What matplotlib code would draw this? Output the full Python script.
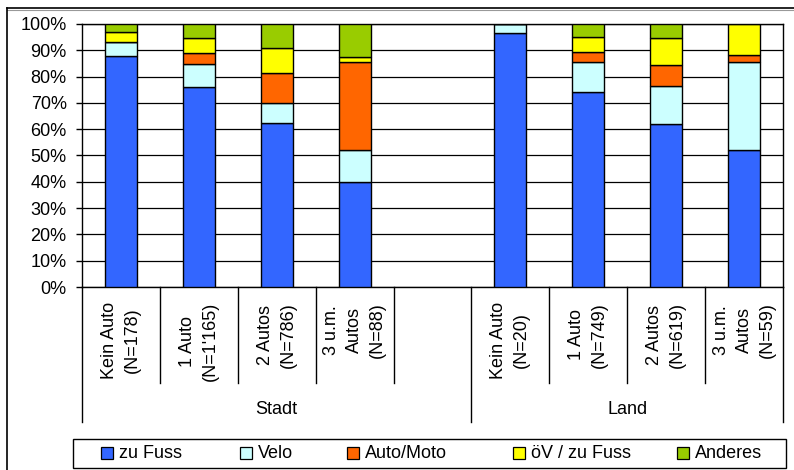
import matplotlib
matplotlib.use("Agg")
import matplotlib.pyplot as plt
from matplotlib.patches import Rectangle
from matplotlib.lines import Line2D
from matplotlib.ticker import PercentFormatter, MultipleLocator
from matplotlib.transforms import blended_transform_factory

plt.rcParams["font.family"] = ["Liberation Sans", "DejaVu Sans"]

# Categories (number of cars in household) per settlement type
groups = ["Stadt", "Land"]
stadt_labels = ["Kein Auto\n(N=178)", "1 Auto\n(N=1'165)", "2 Autos\n(N=786)", "3 u.m.\nAutos\n(N=88)"]
land_labels = ["Kein Auto\n(N=20)", "1 Auto\n(N=749)", "2 Autos\n(N=619)", "3 u.m.\nAutos\n(N=59)"]

# Share of each mode in percent (Stadt x4, then Land x4)
zu_fuss = [88.0, 76.0, 62.2, 40.0, 96.7, 74.1, 61.8, 52.0]
velo = [5.0, 8.8, 7.6, 12.0, 3.3, 11.3, 14.7, 33.4]
auto_moto = [0.0, 4.0, 11.7, 33.4, 0.0, 3.8, 7.9, 2.8]
oev_zu_fuss = [4.0, 5.7, 9.2, 1.9, 0.0, 6.0, 10.3, 11.8]
anderes = [3.0, 5.5, 9.3, 12.7, 0.0, 4.8, 5.3, 0.0]

series_names = ["zu Fuss", "Velo", "Auto/Moto", "öV / zu Fuss", "Anderes"]
series_values = [zu_fuss, velo, auto_moto, oev_zu_fuss, anderes]
colors = ["#3366FF", "#CCFFFF", "#FF6600", "#FFFF00", "#99CC00"]

FS = 13
W, H = 794, 470
fig = plt.figure(figsize=(W / 100, H / 100), dpi=100)

def fx(px):
    return px / W

def fy(py):
    return 1 - py / H

# Plot area
left, right, top, bottom = 82, 783, 24, 287
ax = fig.add_axes([fx(left), fy(bottom), fx(right - left), (bottom - top) / H])

# One empty slot separates the two groups
n_stadt = len(stadt_labels)
positions = list(range(n_stadt)) + [n_stadt + 1 + i for i in range(len(land_labels))]
n_slots = n_stadt + 1 + len(land_labels)

bar_w = 0.41
base = [0.0] * len(positions)
for name, vals, col in zip(series_names, series_values, colors):
    frac = [v / 100 for v in vals]
    ax.bar(positions, frac, bar_w, bottom=base, color=col, edgecolor="black",
           linewidth=1.0, zorder=3)
    base = [b + f for b, f in zip(base, frac)]

ax.set_xlim(-0.5, n_slots - 0.5)
ax.set_ylim(0, 1)
ax.yaxis.set_major_locator(MultipleLocator(0.1))
ax.yaxis.set_major_formatter(PercentFormatter(1.0, decimals=0))
ax.tick_params(axis="y", direction="out", length=4, width=1, pad=7,
               labelsize=FS, colors="black")
ax.set_xticks([])
ax.grid(axis="y", color="black", linewidth=0.9, zorder=0)
for s in ax.spines.values():
    s.set_color("black")
    s.set_linewidth(1.0)

# Category labels and separators below the axis
trans = blended_transform_factory(ax.transData, ax.transAxes)
label_y = -(302 - bottom) / (bottom - top)
inner_y = -(383 - bottom) / (bottom - top)
outer_y = -(422 - bottom) / (bottom - top)
group_y = -(410 - bottom) / (bottom - top)

for pos, lab in zip(positions, stadt_labels + land_labels):
    ax.text(pos, label_y, lab, transform=trans, rotation=90, ha="center", va="top",
            multialignment="center", fontsize=FS, linespacing=1.45)

group_bounds = [-0.5, n_stadt + 0.5, n_slots - 0.5]
for b in range(n_slots + 1):
    xb = b - 0.5
    ybot = outer_y if xb in group_bounds else inner_y
    ax.add_line(Line2D([xb, xb], [0, ybot], transform=trans, color="black",
                       linewidth=1.0, clip_on=False))

for g, (a, b) in zip(groups, zip(group_bounds[:-1], group_bounds[1:])):
    ax.text((a + b) / 2, group_y, g, transform=trans, ha="center", va="center",
            fontsize=FS)

# Legend
fig.add_artist(Rectangle((fx(73), fy(468)), fx(786 - 73), (468 - 439) / H,
                         transform=fig.transFigure, facecolor="white",
                         edgecolor="black", linewidth=1.0))
legend_x = [101, 240, 347, 513, 677]
for x0, name, col in zip(legend_x, series_names, colors):
    fig.add_artist(Rectangle((fx(x0), fy(459)), fx(12), 12 / H,
                             transform=fig.transFigure, facecolor=col,
                             edgecolor="black", linewidth=0.9))
    fig.text(fx(x0 + 18), fy(453), name, ha="left", va="center", fontsize=FS)

# Chart area frame
fig.add_artist(Line2D([fx(7), 1], [fy(8), fy(8)], transform=fig.transFigure,
                      color="black", linewidth=1.2))
fig.add_artist(Line2D([fx(7), 1], [fy(9.5), fy(9.5)], transform=fig.transFigure,
                      color="#999999", linewidth=0.8))
fig.add_artist(Line2D([fx(7), fx(7)], [fy(8), 0], transform=fig.transFigure,
                      color="black", linewidth=1.2))

fig.savefig("out.png", dpi=100)
